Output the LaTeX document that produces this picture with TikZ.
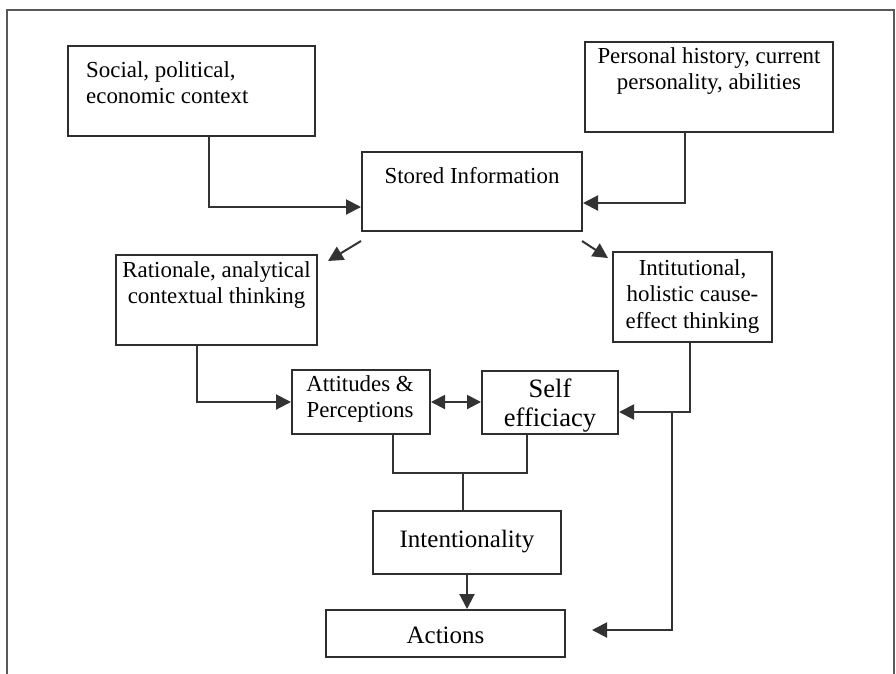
\documentclass[tikz,border=0pt]{standalone}
\usepackage{fontspec}
\setmainfont{Liberation Serif}
\usetikzlibrary{arrows.meta}

\tikzset{
  box/.style={draw=black!82, line width=2pt, inner sep=0pt},
  lbl/.style={inner sep=0pt, align=center, text=black,
              font=\fontsize{22.9}{26}\selectfont},
  conn/.style={draw=black!80, line width=2pt},
  arr/.style={conn, -{Triangle[length=15pt,width=15pt]}},
  dbl/.style={conn, {Triangle[length=14pt,width=14pt]}-{Triangle[length=14pt,width=14pt]}},
  frame/.style={draw=black!65, line width=1.6pt},
}

\begin{document}
\begin{tikzpicture}[x=1pt, y=-1pt]
  \useasboundingbox (0,0) rectangle (896,673);
  \fill[white] (0,0) rectangle (896,673);

  % outer frame
  \draw[frame] (7,690) -- (7,10) -- (894,10) -- (894,690);

  % boxes
  \node[box, minimum width=247pt, minimum height=90pt] (soc)   at (191.5,91)  {};
  \node[box, minimum width=248pt, minimum height=90pt] (per)   at (709,87)    {};
  \node[box, minimum width=220pt, minimum height=79pt] (sto)   at (472,191.5) {};
  \node[box, minimum width=201pt, minimum height=90pt] (rat)   at (216.5,300) {};
  \node[box, minimum width=159pt, minimum height=90pt] (int)   at (692.5,297) {};
  \node[box, minimum width=138pt, minimum height=64pt] (att)   at (361,402)   {};
  \node[box, minimum width=136pt, minimum height=63pt] (sel)   at (550,402.5) {};
  \node[box, minimum width=188pt, minimum height=63pt] (inten) at (467,542.5) {};
  \node[box, minimum width=239pt, minimum height=47pt] (act)   at (445.5,633.5) {};

  % labels
  \node[lbl, anchor=north west, align=left] (soc-t) at (86,61)
    {Social, political,\\economic context};
  \node[lbl, anchor=north] (per-t) at (709,47)
    {Personal history, current\\personality, abilities};
  \node[lbl, anchor=north] (sto-t) at (472,167) {Stored Information};
  \node[lbl, anchor=north] (rat-t) at (216.5,261)
    {Rationale, analytical\\contextual thinking};
  \node[lbl, anchor=north, font=\fontsize{22.9}{26.5}\selectfont] (int-t) at (692.5,259)
    {Intitutional,\\holistic cause-\\effect thinking};
  \node[lbl, anchor=north] (att-t) at (360,375)
    {Attitudes \&\\Perceptions};
  \node[lbl, anchor=north, font=\fontsize{26.5}{29}\selectfont] (sel-t) at (550,379)
    {Self\\efficiacy};
  \node[lbl, anchor=north, font=\fontsize{25}{28}\selectfont] (inten-t) at (467,530)
    {Intentionality};
  \node[lbl, anchor=north, font=\fontsize{25}{28}\selectfont] (act-t) at (445.5,627)
    {Actions};

  % helper points
  \coordinate (j)  at (463,473);
  \coordinate (br) at ([xshift=53pt,yshift=-9.5pt]sel.east);

  % connectors
  \draw[arr] ([xshift=17.5pt]soc.south) |- ([yshift=-15.5pt]sto.west);
  \draw[arr] ([xshift=-24pt]per.south) |- ([yshift=-11.5pt]sto.east);
  \draw[arr] ([yshift=-9pt]sto.south west) -- ([xshift=10pt,yshift=-7pt]rat.north east);
  \draw[arr] ([xshift=-1pt,yshift=-9pt]sto.south east) -- ([xshift=-4pt,yshift=-7pt]int.north west);
  \draw[arr] ([xshift=-19.5pt]rat.south) |- (att.west);
  \draw[dbl] (att.east) -- (att.east -| sel.west);
  \draw[arr] ([xshift=-2.5pt]int.south) |- ([yshift=-9.5pt]sel.east);
  \draw[arr] (br) |- ([xshift=26pt,yshift=3.5pt]act.east);
  \draw[conn] ([xshift=32pt]att.south) |- (j) -| ([xshift=-23pt]sel.south);
  \draw[conn] (j) -- (j |- inten.north);
  \draw[arr] (inten.south) -- (inten.south |- act.north);
\end{tikzpicture}
\end{document}
